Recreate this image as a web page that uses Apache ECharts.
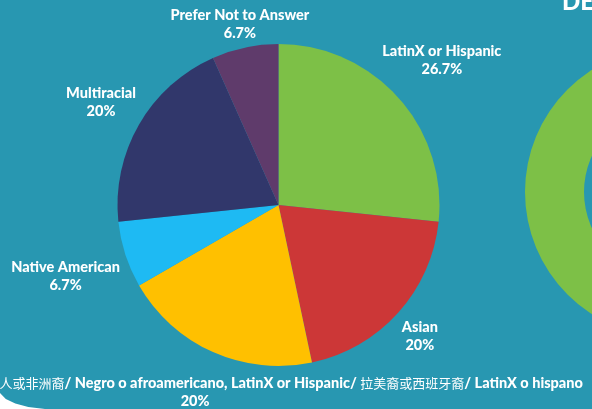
<!DOCTYPE html>
<html>
<head>
<meta charset="utf-8">
<script src="https://cdn.jsdelivr.net/npm/echarts@6/dist/echarts.min.js"></script>
<style>
html,body{margin:0;padding:0;background:#ffffff;}
#chart{width:592px;height:409px;}
</style>
</head>
<body>
<div id="chart"></div>
<script>
const categories = [
  'LatinX or Hispanic',
  'Asian',
  'Black or African American/ 黑人或非洲裔/ Negro o afroamericano, LatinX or Hispanic/ 拉美裔或西班牙裔/ LatinX o hispano',
  'Native American',
  'Multiracial',
  'Prefer Not to Answer'
];
const values = [4, 3, 3, 1, 3, 1];
const colors = ['#7dc047', '#cc3737', '#ffc000', '#1ebaf3', '#31376b', '#5f3b6b'];
// label nudges (padding, style only)
const labelPadding = [[0, 0, 16, 22], [0, 22, 12, 0], [0, 0, 0, 0], [16, 36, 0, 0], [0, 0, 0, 0], [40, 0, 0, 8]];
const secondChartValues = [1];
const secondChartColors = ['#7dc047'];

const total = values.reduce((a, b) => a + b, 0);
function pct(v) { return (Math.round(v / total * 1000) / 10) + '%'; }
function wrapCJK(s) {
  return s.replace(/([\u3400-\u9fff]+)/g, '{c|$1}');
}

const chart = echarts.init(document.getElementById('chart'));
const mainData = categories.map((n, i) => ({ name: n, value: values[i], itemStyle: { color: colors[i] } }));

chart.setOption({
  backgroundColor: '#2897b1',
  animation: false,
  title: {
    text: 'DEMOGRAPHICS',
    left: 557, top: -15,
    textStyle: { color: '#ffffff', fontFamily: 'Lato', fontWeight: 900, fontSize: 24 }
  },
  graphic: [{
    type: 'polygon',
    shape: { points: [[0, 393], [5.8, 398.9], [15.3, 403.5], [28.3, 406.9], [45, 409], [0, 409]] },
    style: { fill: '#ffffff' },
    z: 100
  }],
  series: [
    {
      type: 'pie',
      silent: true,
      center: [670, 192],
      radius: [86, 145],
      label: { show: false },
      labelLine: { show: false },
      data: secondChartValues.map((v, i) => ({ value: v, itemStyle: { color: secondChartColors[i] } }))
    },
    {
      type: 'pie',
      silent: true,
      center: [278.5, 205],
      radius: 161,
      startAngle: 90,
      clockwise: true,
      label: { show: false },
      labelLine: { show: false },
      data: mainData
    },
    {
      type: 'pie',
      silent: true,
      center: [278.5, 205],
      radius: [190, 214],
      startAngle: 90,
      clockwise: true,
      itemStyle: { color: 'rgba(0,0,0,0)' },
      labelLine: { show: false },
      label: {
        show: true,
        position: 'inside',
        color: '#ffffff',
        fontFamily: 'Lato',
        fontWeight: 900,
        fontSize: 14.5,
        lineHeight: 18,
        align: 'center',
        formatter: p => wrapCJK(p.name) + '\n' + pct(p.value),
        rich: {
          c: { fontFamily: '"Noto Sans CJK SC"', fontWeight: 'normal', fontSize: 13, color: '#ffffff', lineHeight: 18 }
        }
      },
      data: mainData.map((d, i) => ({ name: d.name, value: d.value, label: { padding: labelPadding[i] } }))
    }
  ]
});
</script>
</body>
</html>
